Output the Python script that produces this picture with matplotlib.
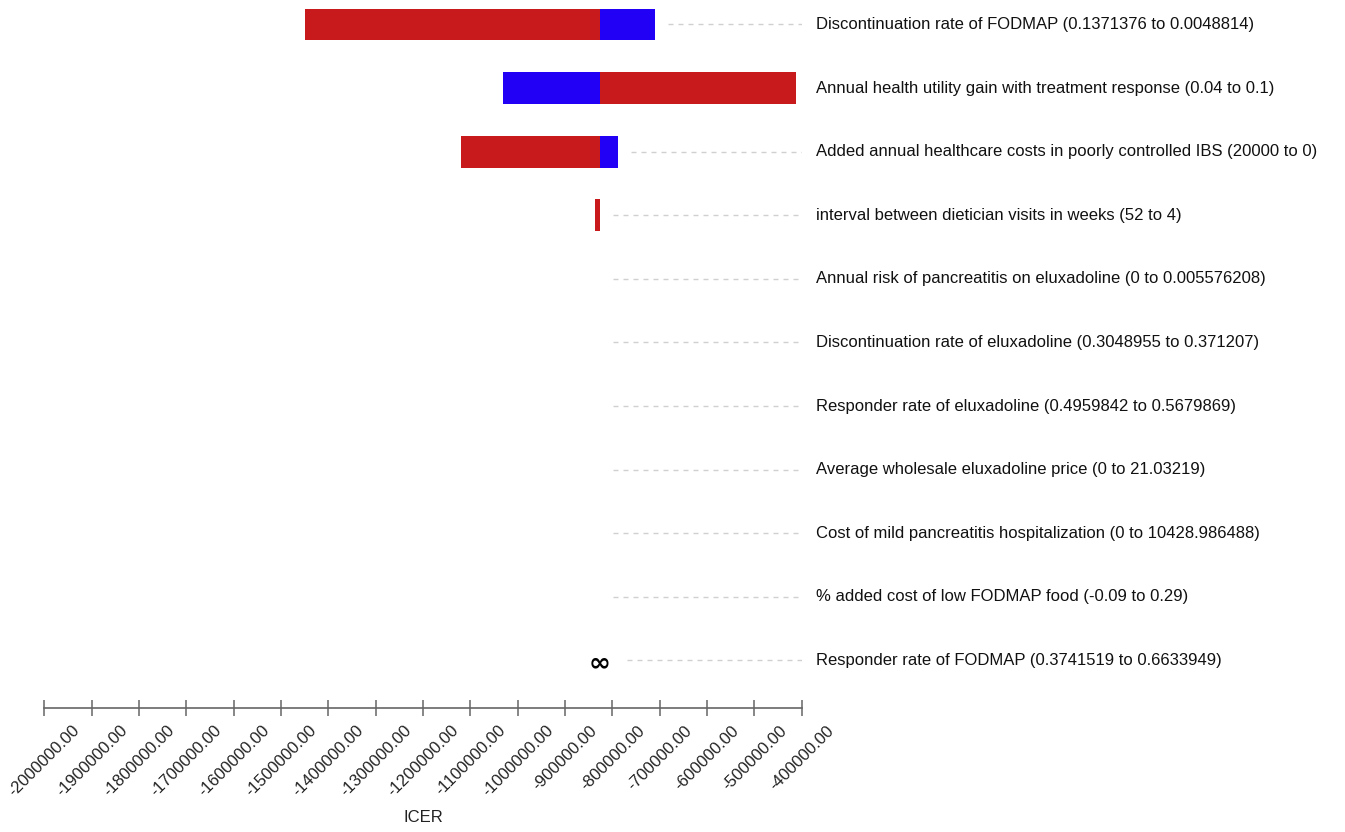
import numpy as np
import matplotlib
matplotlib.use("Agg")
import matplotlib.pyplot as plt

plt.rcParams['font.family'] = ['Liberation Sans', 'DejaVu Sans']

labels = [
    "Discontinuation rate of FODMAP (0.1371376 to 0.0048814)",
    "Annual health utility gain with treatment response (0.04 to 0.1)",
    "Added annual healthcare costs in poorly controlled IBS (20000 to 0)",
    "interval between dietician visits in weeks (52 to 4)",
    "Annual risk of pancreatitis on eluxadoline (0 to 0.005576208)",
    "Discontinuation rate of eluxadoline (0.3048955 to 0.371207)",
    "Responder rate of eluxadoline (0.4959842 to 0.5679869)",
    "Average wholesale eluxadoline price (0 to 21.03219)",
    "Cost of mild pancreatitis hospitalization (0 to 10428.986488)",
    "% added cost of low FODMAP food (-0.09 to 0.29)",
    "Responder rate of FODMAP (0.3741519 to 0.6633949)",
]

base_icer = -826000
# ICER at each end of the parameter range (red end / blue end)
red_icer = [-1449700, -411100, -1120200, -836500, base_icer, base_icer,
            base_icer, base_icer, base_icer, base_icer, np.inf]
blue_icer = [-710600, -1030800, -788600, base_icer, base_icer, base_icer,
             base_icer, base_icer, base_icer, base_icer, np.inf]

xticks = np.arange(-2000000, -399999, 100000)

red = '#C81A1D'
blue = '#2200F5'
gap = 28000

fig = plt.figure(figsize=(13.45, 8.32), dpi=100)
ax = fig.add_axes([44.3 / 1345, 1 - 708 / 832, 757.4 / 1345, 708 / 832])

for i in range(len(labels)):
    r = red_icer[i]
    b = blue_icer[i]
    if np.isfinite(r):
        ax.barh(i, abs(r - base_icer), left=min(r, base_icer), height=0.5,
                color=red, linewidth=0)
    if np.isfinite(b):
        ax.barh(i, abs(b - base_icer), left=min(b, base_icer), height=0.5,
                color=blue, linewidth=0)
    if np.isfinite(r) and np.isfinite(b):
        start = max(r, b, base_icer) + gap
    else:
        ax.text(base_icer, i + 0.04, u"\u221e", ha='center', va='center',
                fontsize=19, fontweight='bold', family='DejaVu Sans')
        start = base_icer + 2 * gap
    if start < xticks[-1]:
        ax.plot([start, xticks[-1]], [i, i], color='#d0d0d0', lw=1,
                dashes=(3.6, 3.6))
    ax.text(1.0188, i, labels[i], transform=ax.get_yaxis_transform(),
            ha='left', va='center', fontsize=12, color='#111111')

ax.set_xlim(xticks[0], xticks[-1])
ax.set_ylim(10.747, -0.385)

for s in ['left', 'right', 'top']:
    ax.spines[s].set_visible(False)
ax.spines['bottom'].set_color('#666666')
ax.spines['bottom'].set_linewidth(1.2)
ax.set_yticks([])
ax.set_xticks(xticks)
ax.set_xticklabels(["%.2f" % v for v in xticks], rotation=45, ha='center',
                   fontsize=12, color='#222222')
ax.tick_params(axis='x', direction='inout', length=11.5, width=1.1,
               color='#666666', pad=5)

fig.text(423 / 1345, 1 - 818 / 832, "ICER", ha='center', va='center',
         fontsize=12, color='#222222')

fig.savefig("out.png", dpi=100)
